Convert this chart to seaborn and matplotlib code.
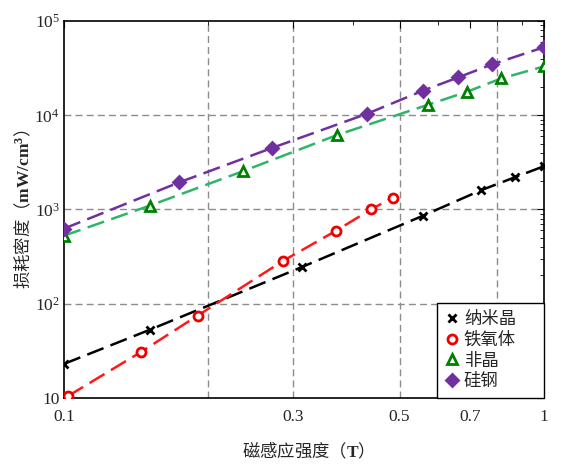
import numpy as np
import pandas as pd
import matplotlib
matplotlib.use('Agg')
import matplotlib.pyplot as plt
from matplotlib.lines import Line2D
from matplotlib.ticker import NullFormatter
import seaborn as sns

# Data (B in T, loss density in mW/cm^3)
nano_b = [0.1, 0.151, 0.313, 0.56, 0.739, 0.87, 1.0]
nano_p = [23, 53, 245, 860, 1600, 2200, 2880]

ferrite_b = [0.102, 0.145, 0.19, 0.286, 0.369, 0.436, 0.484]
ferrite_p = [10.5, 31, 75, 285, 596, 1000, 1340]

amorph_b = [0.1, 0.151, 0.236, 0.371, 0.574, 0.692, 0.814, 1.0]
amorph_p = [527, 1100, 2550, 6180, 12950, 17800, 24550, 33000]

steel_b = [0.1, 0.174, 0.271, 0.428, 0.56, 0.662, 0.78, 1.0]
steel_p = [627, 1945, 4490, 10380, 18270, 25180, 34670, 52700]

labels = ['纳米晶', '铁氧体', '非晶', '硅钢']
xtick_vals = [0.1, 0.3, 0.5, 0.7, 1]
xtick_labels = ['0.1', '0.3', '0.5', '0.7', '1']
ytick_vals = [10, 1e2, 1e3, 1e4, 1e5]
ytick_labels = ['10', '$10^2$', '$10^3$', '$10^4$', '$10^5$']
xgrid = [0.2, 0.3, 0.5, 0.8]
ygrid = [1e2, 1e3, 1e4]

sns.set_style('white')
plt.rcParams['font.family'] = ['Noto Sans CJK SC', 'DejaVu Sans']
plt.rcParams['mathtext.fontset'] = 'custom'
plt.rcParams['mathtext.rm'] = 'Liberation Serif'
plt.rcParams['mathtext.bf'] = 'Liberation Serif:bold'
plt.rcParams['mathtext.it'] = 'Liberation Serif:italic'

fig = plt.figure(figsize=(5.73, 4.67), dpi=100)
ax = fig.add_axes([0.1117, 0.1478, 0.8377, 0.8072])
ax.set_xscale('log')
ax.set_yscale('log')

for xv in xgrid:
    ax.axvline(xv, color='#8c8c8c', lw=1, ls=(0, (5, 3)), zorder=0)
for yv in ygrid:
    ax.axhline(yv, color='#8c8c8c', lw=1, ls=(0, (5, 3)), zorder=0)

dash = (0, (7, 3))
series = [
    (nano_b, nano_p, 'black', 'x', 'black', 'black', 5.5),
    (ferrite_b, ferrite_p, '#ff1a1a', 'o', '#ee0000', 'white', 6.5),
    (amorph_b, amorph_p, '#2db56a', '^', '#008000', 'white', 6.5),
    (steel_b, steel_p, '#7030a0', 'D', '#7030a0', '#7030a0', 6),
]
for xs, ys, lc, mk, mec, mfc, ms in series:
    df = pd.DataFrame({'B': xs, 'P': ys})
    sns.lineplot(data=df, x='B', y='P', ax=ax, color=lc, lw=1.8,
                 linestyle=dash, marker=mk, markersize=ms,
                 markeredgecolor=mec, markerfacecolor=mfc,
                 markeredgewidth=2, zorder=3)

ax.set_xlim(0.1, 1)
ax.set_ylim(10, 1e5)
ax.set_xticks(xtick_vals)
ax.set_xticklabels(xtick_labels, family='Liberation Serif', fontsize=12.5)
ax.set_xticks([0.2, 0.4, 0.6, 0.8, 0.9], minor=True)
ax.xaxis.set_minor_formatter(NullFormatter())
ax.set_yticks(ytick_vals)
ax.set_yticklabels(ytick_labels, family='Liberation Serif', fontsize=12.5)
ax.tick_params(which='both', direction='in', top=True, right=True, color='black')
ax.tick_params(which='major', length=5, width=0.8)
ax.tick_params(which='minor', length=3, width=0.6)
ax.tick_params(axis='x', pad=8)
ax.tick_params(axis='y', pad=3)
for sp in ax.spines.values():
    sp.set_color('black')
    sp.set_linewidth(1.2)

ax.set_xlabel('磁感应强度（$\\mathbf{T}$）', fontsize=12.5, labelpad=11)
ax.set_ylabel('损耗密度（$\\mathbf{mW/cm^3}$）', fontsize=12.5, labelpad=1)

handles = []
for (xs, ys, lc, mk, mec, mfc, ms), lab in zip(series, labels):
    handles.append(Line2D([], [], linestyle='none', marker=mk, markersize=ms,
                          markeredgecolor=mec, markerfacecolor=mfc,
                          markeredgewidth=2, label=lab))
leg = ax.legend(handles=handles, loc='lower left', mode='expand',
                bbox_to_anchor=(0.777, 0, 0.223, 0.25), borderaxespad=0,
                fancybox=False, framealpha=1, edgecolor='black',
                fontsize=12.5, handlelength=0.8, handletextpad=0.3,
                labelspacing=0.15, borderpad=0.45)
leg.get_frame().set_linewidth(1.0)

fig.savefig('out.png', dpi=100)
